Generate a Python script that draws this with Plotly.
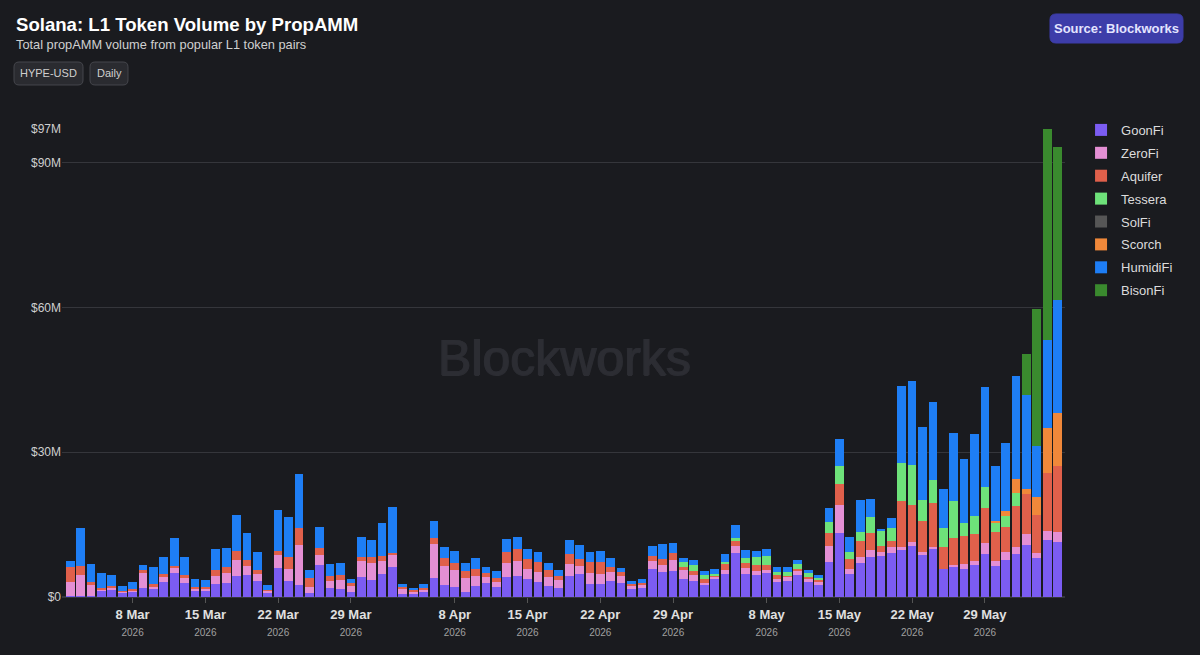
import pandas as pd
import plotly.graph_objects as go

# ---------------- data ----------------
dates = pd.date_range("2026-03-02", "2026-06-05", freq="D")

goonfi = [0.2, 0.2, 0.3, 1.25, 1.45, 0.9, 1.2, 1.9, 1.65, 3.1, 4.9, 3.0, 1.25, 1.25, 2.6, 3.0, 4.35, 4.6, 3.25, 0.95,
          6.0, 3.4, 2.4, 0.9, 6.7, 1.85, 1.65, 1.1, 4.1, 3.5, 4.85, 6.2, 0.7, 0.6, 1.0, 3.9, 2.55, 2.15, 1.1, 2.35,
          2.9, 2.0, 4.1, 4.35, 3.75, 3.2, 2.35, 1.8, 4.4, 4.85, 2.75, 2.6, 3.4, 3.0, 1.75, 1.8, 5.75, 5.2, 5.3, 3.7,
          3.3, 2.55, 3.65, 4.7, 9.05, 4.85, 4.5, 5.05, 3.1, 3.3, 4.65, 3.1, 2.55, 7.35, 13.25, 4.8, 7.0, 8.35, 8.55, 9.2,
          9.75, 10.65, 8.8, 10.0, 5.8, 6.15, 5.75, 6.7, 8.85, 6.45, 7.7, 8.9, 10.8, 8.1, 11.85, 11.45]
zerofi = [3.0, 4.4, 2.2, 0.4, 0.55, 0.2, 0.2, 3.25, 0.6, 1.25, 1.25, 1.0, 0.55, 0.55, 1.8, 1.9, 3.3, 1.9, 1.6, 0.35,
          2.7, 2.4, 8.4, 1.2, 2.1, 1.45, 1.9, 1.2, 3.3, 3.6, 2.6, 2.7, 1.0, 0.6, 0.6, 7.05, 3.9, 3.45, 2.85, 1.95,
          1.25, 1.05, 3.05, 3.05, 2.15, 2.0, 1.85, 1.65, 2.4, 1.65, 2.2, 2.15, 1.8, 1.45, 0.6, 0.8, 1.8, 1.45, 2.35, 2.0,
          1.25, 0.4, 0.5, 0.9, 1.6, 1.25, 0.9, 0.6, 0.55, 0.9, 0.7, 0.55, 0.5, 3.25, 5.75, 0.95, 1.25, 1.4, 0.7, 1.1,
          0.7, 0.8, 0.5, 0.3, 0.0, 0.5, 1.1, 0.85, 2.35, 0.95, 1.65, 1.4, 2.35, 1.0, 1.75, 2.1]
aquifer = [3.1, 1.9, 0.55, 0.3, 0.3, 0.15, 0.2, 0.35, 0.4, 0.4, 0.35, 0.55, 0.2, 0.35, 1.3, 1.25, 1.8, 1.25, 0.8, 0.15,
           0.8, 2.55, 3.6, 1.9, 1.45, 1.1, 1.1, 0.55, 0.8, 1.1, 1.05, 0.2, 0.3, 0.2, 0.35, 1.2, 1.65, 1.4, 1.5, 1.5,
           0.75, 0.95, 2.2, 2.5, 1.95, 2.0, 1.5, 0.95, 2.2, 1.45, 2.3, 2.55, 1.1, 0.75, 0.35, 0.35, 0.95, 1.3, 1.4, 0.55,
           0.9, 0.7, 0.35, 1.15, 0.9, 0.9, 1.2, 0.9, 0.9, 0.2, 0.5, 0.55, 0.6, 2.6, 4.5, 2.1, 3.45, 3.45, 1.25, 1.4,
           9.45, 7.55, 6.55, 9.1, 4.6, 5.55, 5.85, 5.5, 7.35, 6.0, 5.1, 8.55, 8.15, 8.0, 12.1, 13.6]
tessera = [0.0] * 59 + [0.95, 1.1, 0.95, 0.2, 0.55, 0.7, 1.15, 1.7, 1.85, 0.6, 0.7, 0.95, 0.75, 0.35, 2.3, 3.75, 1.5,
                        1.7, 3.45, 3.3, 2.55, 7.8, 8.35, 4.3, 4.9, 3.95, 7.6, 2.6, 3.8, 4.15, 1.85, 2.35, 2.8, 0.0, 0.0,
                        0.0, 0.0]
solfi = [0.0] * 96
scorch = [0.0] * 89 + [0.5, 1.05, 2.9, 1.0, 3.6, 9.35, 11.0]
humidifi = [1.2, 7.7, 3.8, 3.1, 2.3, 1.0, 1.5, 1.2, 3.6, 3.5, 5.7, 3.7, 1.65, 1.3, 4.2, 4.1, 7.5, 5.5, 3.65, 1.0,
            8.6, 8.2, 11.1, 1.7, 4.3, 2.4, 2.3, 0.85, 4.15, 3.65, 6.85, 9.5, 0.7, 0.55, 0.7, 3.6, 2.35, 2.5, 1.65, 2.2,
            1.4, 1.45, 2.7, 2.6, 2.15, 2.15, 1.3, 1.1, 2.85, 2.85, 2.05, 2.2, 1.7, 0.9, 0.6, 0.85, 2.0, 3.05, 2.15, 0.8,
            1.1, 0.7, 1.1, 1.6, 2.75, 1.6, 1.25, 1.45, 1.05, 1.05, 0.9, 0.7, 0.6, 3.05, 5.6, 3.1, 6.8, 3.6, 0.3, 2.2,
            15.95, 17.35, 15.05, 16.05, 8.1, 14.1, 13.2, 17.0, 20.85, 11.4, 14.15, 21.3, 19.6, 10.5, 18.2, 23.4]
bisonfi = [0.0] * 92 + [8.45, 28.4, 43.75, 31.65]

series = [
    ("GoonFi", goonfi, "#7b5cf2"),
    ("ZeroFi", zerofi, "#e48fd4"),
    ("Aquifer", aquifer, "#e0604b"),
    ("Tessera", tessera, "#6ee27a"),
    ("SolFi", solfi, "#565656"),
    ("Scorch", scorch, "#f0883a"),
    ("HumidiFi", humidifi, "#1e7ef5"),
    ("BisonFi", bisonfi, "#3a8a2e"),
]

tick_dates = ["2026-03-08", "2026-03-15", "2026-03-22", "2026-03-29",
              "2026-04-08", "2026-04-15", "2026-04-22", "2026-04-29",
              "2026-05-08", "2026-05-15", "2026-05-22", "2026-05-29"]
tick_day_labels = ["8 Mar", "15 Mar", "22 Mar", "29 Mar",
                   "8 Apr", "15 Apr", "22 Apr", "29 Apr",
                   "8 May", "15 May", "22 May", "29 May"]
tick_year = "2026"
y_ticks = [0, 30, 60, 90]
y_tick_labels = ["$0", "$30M", "$60M", "$90M"]

# ---------------- figure ----------------
BG = "#1a1b1f"
FONT = "Liberation Sans, Arial, Helvetica, sans-serif"
W, H = 1200, 655
L, R, T, B = 62, 135, 129, 58

totals = [sum(v) for v in zip(goonfi, zerofi, aquifer, tessera, solfi, scorch, humidifi, bisonfi)]
ymax = max(totals)

fig = go.Figure()
for name, vals, color in series:
    fig.add_trace(go.Bar(
        x=dates, y=vals, name=name, marker=dict(color=color, line=dict(width=0)),
        legendgroup=name,
    ))

ytv = y_ticks + [round(ymax)]
ytt = y_tick_labels + ["$%dM" % round(ymax)]

xtt = ["<b>%s</b><br><span style='font-size:10px;color:#a0a0a0'>%s</span>" % (d, tick_year)
       for d in tick_day_labels]

fig.update_layout(
    width=W, height=H,
    margin=dict(l=L, r=R, t=T, b=B),
    paper_bgcolor=BG, plot_bgcolor=BG,
    barmode="stack", bargap=0.16,
    font=dict(family=FONT, color="#d8d8d8", size=12),
    showlegend=True,
    legend=dict(
        x=1.016, y=1.03, xanchor="left", yanchor="top",
        traceorder="grouped", tracegroupgap=3,
        font=dict(size=13, color="#dcdcdc"),
        bgcolor="rgba(0,0,0,0)",
    ),
    xaxis=dict(
        type="date",
        range=["2026-03-01 05:00", "2026-06-05 17:00"],
        tickvals=tick_dates, ticktext=xtt,
        ticks="outside", ticklen=5, tickcolor="#555",
        showgrid=False, showline=False, zeroline=False,
        tickfont=dict(size=13, color="#e0e0e0"),
    ),
    yaxis=dict(
        range=[0, ymax],
        tickvals=ytv, ticktext=ytt,
        showgrid=True, gridcolor="#35363b", gridwidth=1,
        zeroline=True, zerolinecolor="#35363b",
        showline=False, ticks="",
        tickfont=dict(size=12, color="#cfcfcf"),
    ),
)


def px_x(px):
    return (px - L) / (W - L - R)


def px_y(py):
    return (H - B - py) / (H - T - B)


def rounded_rect(x0, y0, x1, y1, r):
    def P(x, y):
        return "%.5f,%.5f" % (px_x(x), px_y(y))
    return ("M " + P(x0 + r, y0) + " L " + P(x1 - r, y0) + " Q " + P(x1, y0) + " " + P(x1, y0 + r) +
            " L " + P(x1, y1 - r) + " Q " + P(x1, y1) + " " + P(x1 - r, y1) +
            " L " + P(x0 + r, y1) + " Q " + P(x0, y1) + " " + P(x0, y1 - r) +
            " L " + P(x0, y0 + r) + " Q " + P(x0, y0) + " " + P(x0 + r, y0) + " Z")


shapes = [
    dict(type="path", xref="paper", yref="paper", path=rounded_rect(14, 62, 83, 85, 5),
         fillcolor="#2a2b30", line=dict(color="#45464c", width=1), layer="above"),
    dict(type="path", xref="paper", yref="paper", path=rounded_rect(90, 62, 128, 85, 5),
         fillcolor="#2a2b30", line=dict(color="#45464c", width=1), layer="above"),
    dict(type="path", xref="paper", yref="paper", path=rounded_rect(1050, 14, 1183, 43, 6),
         fillcolor="#3d3da9", line=dict(color="#3d3da9", width=1), layer="above"),
]
fig.update_layout(shapes=shapes)

ann = [
    dict(text="<b>Solana: L1 Token Volume by PropAMM</b>", x=px_x(14), y=px_y(25),
         font=dict(size=18.6, color="#ffffff")),
    dict(text="Total propAMM volume from popular L1 token pairs", x=px_x(14), y=px_y(45),
         font=dict(size=12.8, color="#d0d0d0")),
    dict(text="HYPE-USD", x=px_x(48.5), y=px_y(73.5), xanchor="center",
         font=dict(size=11, color="#cfcfcf")),
    dict(text="Daily", x=px_x(109), y=px_y(73.5), xanchor="center",
         font=dict(size=11, color="#cfcfcf")),
    dict(text="<b>Source: Blockworks</b>", x=px_x(1116.5), y=px_y(28.5), xanchor="center",
         font=dict(size=13, color="#e4e4ff")),
    dict(text="Blockworks", x=px_x(564), y=px_y(358), xanchor="center",
         font=dict(size=50, color="#2c2d33",
                   shadow="0.8px 0 0 #2c2d33, -0.8px 0 0 #2c2d33, 0 0.6px 0 #2c2d33")),
]
for a in ann:
    a.setdefault("xanchor", "left")
    a.update(xref="paper", yref="paper", yanchor="middle", showarrow=False)
fig.update_layout(annotations=ann)

fig.write_html("out.html", config={"displayModeBar": False},
               post_script="document.body.style.margin='0';document.body.style.background='%s';" % BG)
